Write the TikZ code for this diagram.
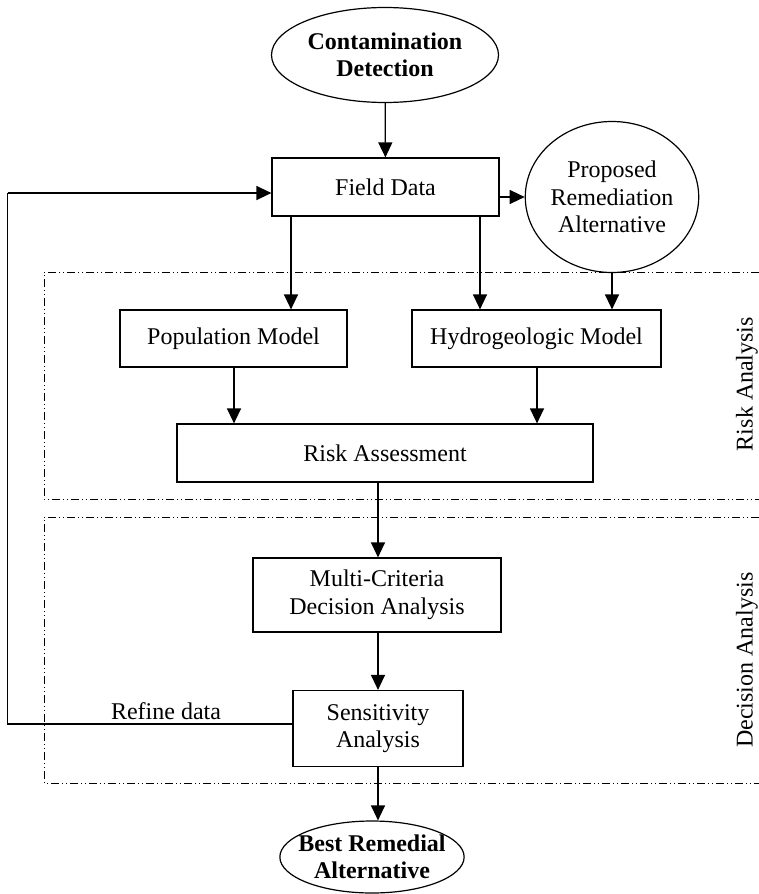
\documentclass[tikz,border=0pt]{standalone}
\usepackage{fontspec}
\setmainfont{Liberation Serif}
\usetikzlibrary{shapes.geometric,arrows.meta}
\newcommand{\figfont}{\fontsize{24}{27.5}\selectfont}
\tikzstyle{box}=[shape=rectangle, draw=black, line width=1.2pt, inner sep=0, align=center]
\tikzstyle{oval}=[shape=ellipse, draw=black, line width=1.2pt, inner sep=0, align=center, font=\figfont\bfseries]
\tikzstyle{roundvx}=[shape=ellipse, draw=black, line width=1.2pt, inner sep=0, align=center]
\tikzstyle{arr}=[line width=1.3pt, -{Triangle[length=15pt, width=14pt]}]
\tikzstyle{band}=[line width=0.9pt, dash pattern=on 8pt off 3pt on 1pt off 3pt on 1pt off 3pt]
\tikzstyle{sidelabel}=[rotate=90, inner sep=0]

\begin{document}
\begin{tikzpicture}[x=1pt, y=-1pt, font=\figfont]
\useasboundingbox (0,0) rectangle (759,894);
\foreach \t/\b in {272/499,517/783}
{
\draw[band] (759,\t) -- (44,\t) -- (44,\b) -- (759,\b);
}
\node[oval, minimum width=227pt, minimum height=95pt] (detect) at (385,55) {Contamination\\Detection};
\node[box, minimum width=227pt, minimum height=58pt] (field) at (385.5,187) {Field Data};
\node[roundvx, minimum width=151pt, minimum height=151pt] (propose) at (612,197) {Proposed\\Remediation\\Alternative};
\node[box, minimum width=227pt, minimum height=57pt] (pop) at (233.5,338.5) {Population Model};
\node[box, minimum width=249pt, minimum height=57pt] (hydro) at (536.5,338.5) {Hydrogeologic Model};
\node[box, minimum width=416pt, minimum height=58pt] (risk) at (385,453) {Risk Assessment};
\node[box, minimum width=248pt, minimum height=74pt] (mcda) at (377,595) {Multi-Criteria\\Decision Analysis};
\node[box, minimum width=170pt, minimum height=76pt] (sens) at (378,728.5) {Sensitivity\\Analysis};
\node[oval, inner xsep=-8.5pt, minimum height=72pt] (best) at (372,857) {Best Remedial\\Alternative};
\node[sidelabel] (risklbl) at (747,384) {Risk Analysis};
\node[sidelabel] (declbl) at (747,660) {Decision Analysis};
\coordinate (back1) at (7.5,724);
\coordinate (back2) at (7.5,193);
\node[anchor=base, inner sep=0] (refine) at (166,719) {Refine data};

\draw[arr] (detect) -- (field);
\draw[arr] (field.east |- propose.west) -- (propose.west);
\draw[arr] (291,0 |- field.south) -- (291,0 |- pop.north);
\draw[arr] (480,0 |- field.south) -- (480,0 |- hydro.north);
\draw[arr] (propose.south) -- (propose.south |- hydro.north);
\draw[arr] (234,0 |- pop.south) -- (234,0 |- risk.north);
\draw[arr] (537,0 |- hydro.south) -- (537,0 |- risk.north);
\draw[arr] (378,0 |- risk.south) -- (378,0 |- mcda.north);
\draw[arr] (378,0 |- mcda.south) -- (sens.north);
\draw[arr] (sens.south) -- (378,0 |- best.north);
\draw[line width=1.2pt] (sens.west |- back1) -- (back1) -- (back2);
\draw[arr] (back2) -- (field.west |- back2);
\end{tikzpicture}
\end{document}
